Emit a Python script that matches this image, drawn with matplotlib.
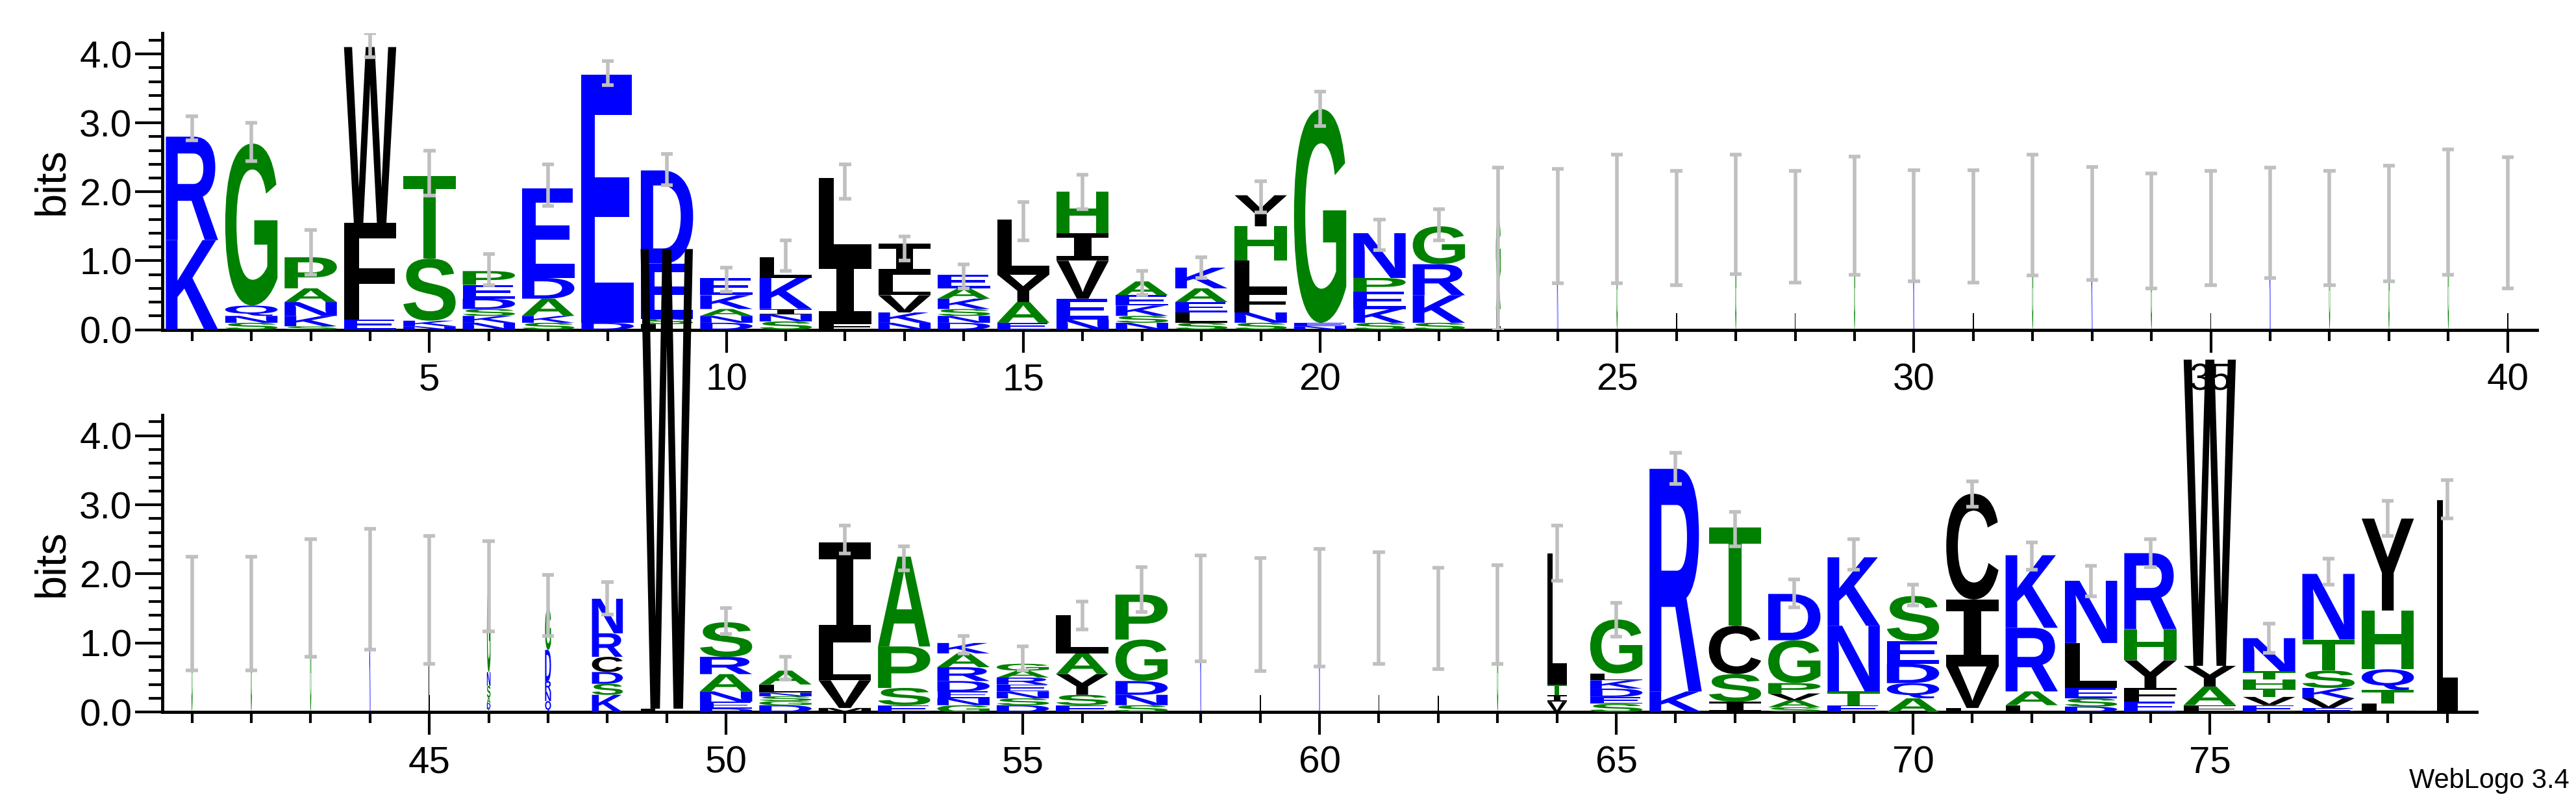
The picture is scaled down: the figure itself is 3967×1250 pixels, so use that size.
import numpy as np
import matplotlib
matplotlib.use("Agg")
import matplotlib.pyplot as plt
from matplotlib.textpath import TextPath
from matplotlib.patches import PathPatch
from matplotlib.transforms import Affine2D
from matplotlib.font_manager import FontProperties
from matplotlib.ticker import MultipleLocator

plt.rcParams['font.family'] = ['Liberation Sans', 'DejaVu Sans']

# ---------------- data ----------------
top_positions = list(range(1, 41))
top_letters = ["KR", "SNQG", "SKNAP", "EFW", "NKST", "NKSDEP", "SKADE", "DE", "LSED", "DNAKE",
               "SNIKL", "FIL", "NKVLI", "DNSKAE", "EAYL", "NEVIH", "NSKEA", "SLEAK", "SNFLHY", "NEG",
               "SKEPN", "SKRG", "LAG", "K", "G", "L", "G", "L", "G", "K",
               "L", "G", "K", "G", "L", "K", "G", "G", "G", "L"]
top_heights = [[1.3, 1.5], [0.1, 0.1, 0.15, 2.35], [0.05, 0.15, 0.2, 0.2, 0.45], [0.15, 1.4, 2.55],
               [0.05, 0.08, 0.9, 1.2], [0.1, 0.1, 0.1, 0.15, 0.2, 0.2], [0.1, 0.1, 0.25, 0.3, 1.3],
               [0.1, 3.6], [0.08, 0.08, 0.8, 1.35], [0.1, 0.1, 0.1, 0.2, 0.25],
               [0.12, 0.1, 0.08, 0.45, 0.3], [0.1, 0.95, 1.15], [0.1, 0.15, 0.25, 0.3, 0.45],
               [0.1, 0.1, 0.1, 0.15, 0.15, 0.2], [0.1, 0.3, 0.4, 0.8], [0.15, 0.3, 0.55, 0.4, 0.6],
               [0.1, 0.1, 0.15, 0.15, 0.2], [0.1, 0.15, 0.15, 0.2, 0.3], [0.1, 0.15, 0.3, 0.45, 0.5, 0.45],
               [0.05, 0.05, 3.1], [0.1, 0.2, 0.25, 0.2, 0.65], [0.1, 0.4, 0.45, 0.55], [0.3, 0.4, 0.9],
               [1.5], [1.55], [1.5], [1.6], [1.5], [1.6], [1.5], [1.5], [1.6], [1.5],
               [1.45], [1.5], [1.55], [1.5], [1.5], [1.65], [1.5]]
top_widths = [0.88] * 22 + [0.08] + [0.02] * 17
top_err_lo = [2.75, 2.45, 0.8, 3.95, 1.95, 0.65, 1.8, 3.55, 2.1, 0.55, 0.85, 1.9, 1.0, 0.6, 1.3, 1.75,
              0.5, 0.75, 1.7, 2.95, 1.15, 1.3, 0.0, 0.67, 0.67, 0.65, 0.81, 0.68, 0.8, 0.7,
              0.68, 0.79, 0.72, 0.6, 0.65, 0.75, 0.65, 0.7, 0.8, 0.6]
top_err_hi = [3.1, 3.0, 1.45, 4.3, 2.6, 1.1, 2.4, 3.9, 2.55, 0.9, 1.3, 2.4, 1.35, 0.95, 1.85, 2.25,
              0.85, 1.05, 2.15, 3.45, 1.6, 1.75, 2.35, 2.33, 2.54, 2.3, 2.54, 2.3, 2.51, 2.31,
              2.31, 2.54, 2.36, 2.27, 2.3, 2.35, 2.3, 2.38, 2.62, 2.5]

bottom_positions = list(range(41, 80))
bottom_letters = ["G", "G", "G", "K", "L", "TDASNG", "QNRDG", "KSDCRN", "LW", "DENARS",
                  "DGSNLA", "MVLI", "ESPA", "GNEDRAK", "DSNERAG", "ESYAL", "SNDGP", "K", "L", "K",
                  "L", "L", "G", "VITL", "SEDKLG", "KR", "ISCT", "SAVPGD", "ETNK", "AQDES",
                  "LVIC", "LARK", "DSELN", "EFYHR", "FAYW", "EVTHTN", "EVKSTN", "LTQHY", "L"]
bottom_heights = [[1.5], [1.5], [1.5], [1.55], [1.5], [0.05, 0.08, 0.08, 0.17, 0.2, 1.2],
                  [0.16, 0.14, 0.15, 0.45, 0.6], [0.25, 0.16, 0.17, 0.22, 0.34, 0.5], [0.05, 6.65],
                  [0.05, 0.1, 0.15, 0.25, 0.25, 0.5], [0.1, 0.06, 0.07, 0.05, 0.12, 0.2],
                  [0.06, 0.4, 0.55, 1.45], [0.1, 0.25, 0.6, 1.3], [0.1, 0.1, 0.1, 0.15, 0.2, 0.2, 0.15],
                  [0.1, 0.1, 0.1, 0.1, 0.1, 0.1, 0.1], [0.1, 0.15, 0.3, 0.3, 0.55], [0.1, 0.15, 0.2, 0.6, 0.65],
                  [1.5], [1.5], [1.55], [1.5], [1.45], [1.5],
                  [0.15, 0.1, 0.15, 1.9], [0.12, 0.1, 0.12, 0.12, 0.1, 0.78], [0.3, 3.22],
                  [0.15, 0.4, 0.7, 1.42], [0.07, 0.1, 0.1, 0.15, 0.62, 0.67], [0.1, 0.2, 0.95, 0.99],
                  [0.2, 0.22, 0.28, 0.33, 0.65], [0.06, 0.6, 0.97, 1.53], [0.1, 0.2, 0.92, 1.05],
                  [0.08, 0.12, 0.15, 0.65, 0.9], [0.15, 0.2, 0.4, 0.45, 1.1], [0.1, 0.27, 0.3, 4.43],
                  [0.1, 0.12, 0.12, 0.13, 0.12, 0.48], [0.06, 0.14, 0.15, 0.25, 0.45, 0.95],
                  [0.12, 0.2, 0.3, 0.85, 1.33], [3.07]]
bottom_widths = ([0.02] * 5 + [0.06, 0.1, 0.52] + [0.88] * 9 + [0.02] * 6
                 + [0.33] + [0.88] * 14 + [0.35])
bottom_err_lo = [0.6, 0.6, 0.8, 0.9, 0.7, 1.17, 1.1, 1.41, np.nan, 1.13, 0.47, 2.3, 2.05, 0.85, 0.6,
                 1.2, 1.45, 0.74, 0.59, 0.66, 0.7, 0.62, 0.7, 1.9, 1.09, 3.3, 2.4, 1.52, 2.06, 1.54,
                 2.97, 2.06, 1.68, 2.1, np.nan, 0.86, 1.84, 2.55, 2.8]
bottom_err_hi = [2.25, 2.25, 2.5, 2.65, 2.55, 2.47, 1.99, 1.88, np.nan, 1.51, 0.8, 2.7, 2.4, 1.1, 0.95,
                 1.6, 2.1, 2.27, 2.23, 2.36, 2.31, 2.09, 2.13, 2.7, 1.58, 3.75, 2.9, 1.92, 2.5, 1.84,
                 3.34, 2.46, 2.12, 2.5, np.nan, 1.28, 2.22, 3.06, 3.36]

GREEN, BLUE, BLACK = "#008000", "#0000ff", "#000000"
color_map = {}
for c in "GSTAPH":
    color_map[c] = GREEN
for c in "KRNDEQ":
    color_map[c] = BLUE
for c in "WFLIVYCM":
    color_map[c] = BLACK

fp = FontProperties(family="Liberation Sans", weight="bold")
fp_mono = FontProperties(family="DejaVu Sans Mono", weight="bold")
_cache = {}


def glyph(ch):
    if ch not in _cache:
        tp = TextPath((0, 0), ch, size=1, prop=fp_mono if ch == "I" else fp)
        _cache[ch] = (tp, tp.get_extents())
    return _cache[ch]


def draw_logo(ax, positions, letters, heights, widths, lo, hi):
    for x, lets, hs, w in zip(positions, letters, heights, widths):
        y = 0.0
        for ch, h in zip(lets, hs):
            tp, bb = glyph(ch)
            tr = (Affine2D().translate(-bb.x0, -bb.y0)
                  .scale(w / bb.width, h / bb.height)
                  .translate(x - w / 2, y) + ax.transData)
            ax.add_patch(PathPatch(tp, transform=tr, fc=color_map[ch], ec="none",
                                   clip_on=False, zorder=3))
            y += h
    ok = ~np.isnan(np.array(lo, dtype=float))
    xs = np.array(positions)[ok]
    l = np.array(lo, dtype=float)[ok]
    h = np.array(hi, dtype=float)[ok]
    ax.vlines(xs, l, h, color="#c0c0c0", lw=4, zorder=4)
    ax.hlines(np.concatenate([l, h]), np.concatenate([xs, xs]) - 0.1,
              np.concatenate([xs, xs]) + 0.1, color="#c0c0c0", lw=4, zorder=4)


def style(ax, x0, x1, major):
    ax.set_xlim(x0, x1)
    ax.set_ylim(0, 4.3)
    for s in ("top", "right"):
        ax.spines[s].set_visible(False)
    for s in ("left", "bottom"):
        ax.spines[s].set_linewidth(3.5)
    ax.yaxis.set_minor_locator(MultipleLocator(0.2))
    ax.set_yticks([0, 1, 2, 3, 4])
    ax.set_yticklabels(["0.0", "1.0", "2.0", "3.0", "4.0"])
    ax.set_xticks(major)
    ax.set_xticklabels([str(m) for m in major])
    ax.set_xticks(np.arange(int(x0 + 0.5), int(x1 + 0.5)), minor=True)
    ax.tick_params(axis="both", which="major", labelsize=42, width=3, length=30, direction="out")
    ax.tick_params(axis="y", which="minor", width=3, length=15)
    ax.tick_params(axis="x", which="major", length=25, pad=12)
    ax.tick_params(axis="x", which="minor", width=3, length=12)
    ax.set_ylabel("bits", fontsize=48, labelpad=8)


fig = plt.figure(figsize=(39.67, 12.5), dpi=100)
ax1 = fig.add_axes([0.063, 0.594, 0.922, 0.365])
ax2 = fig.add_axes([0.063, 0.123, 0.8985, 0.366])
ax1.set_zorder(1)
ax2.set_zorder(2)
for a in (ax1, ax2):
    a.patch.set_alpha(0)
style(ax1, 0.5, 40.5, [5, 10, 15, 20, 25, 30, 35, 40])
style(ax2, 40.5, 79.5, [45, 50, 55, 60, 65, 70, 75])
draw_logo(ax1, top_positions, top_letters, top_heights, top_widths, top_err_lo, top_err_hi)
draw_logo(ax2, bottom_positions, bottom_letters, bottom_heights, bottom_widths, bottom_err_lo, bottom_err_hi)
fig.text(0.9975, 0.022, "WebLogo 3.4", ha="right", va="bottom", fontsize=30)
fig.savefig("out.png", dpi=100)
